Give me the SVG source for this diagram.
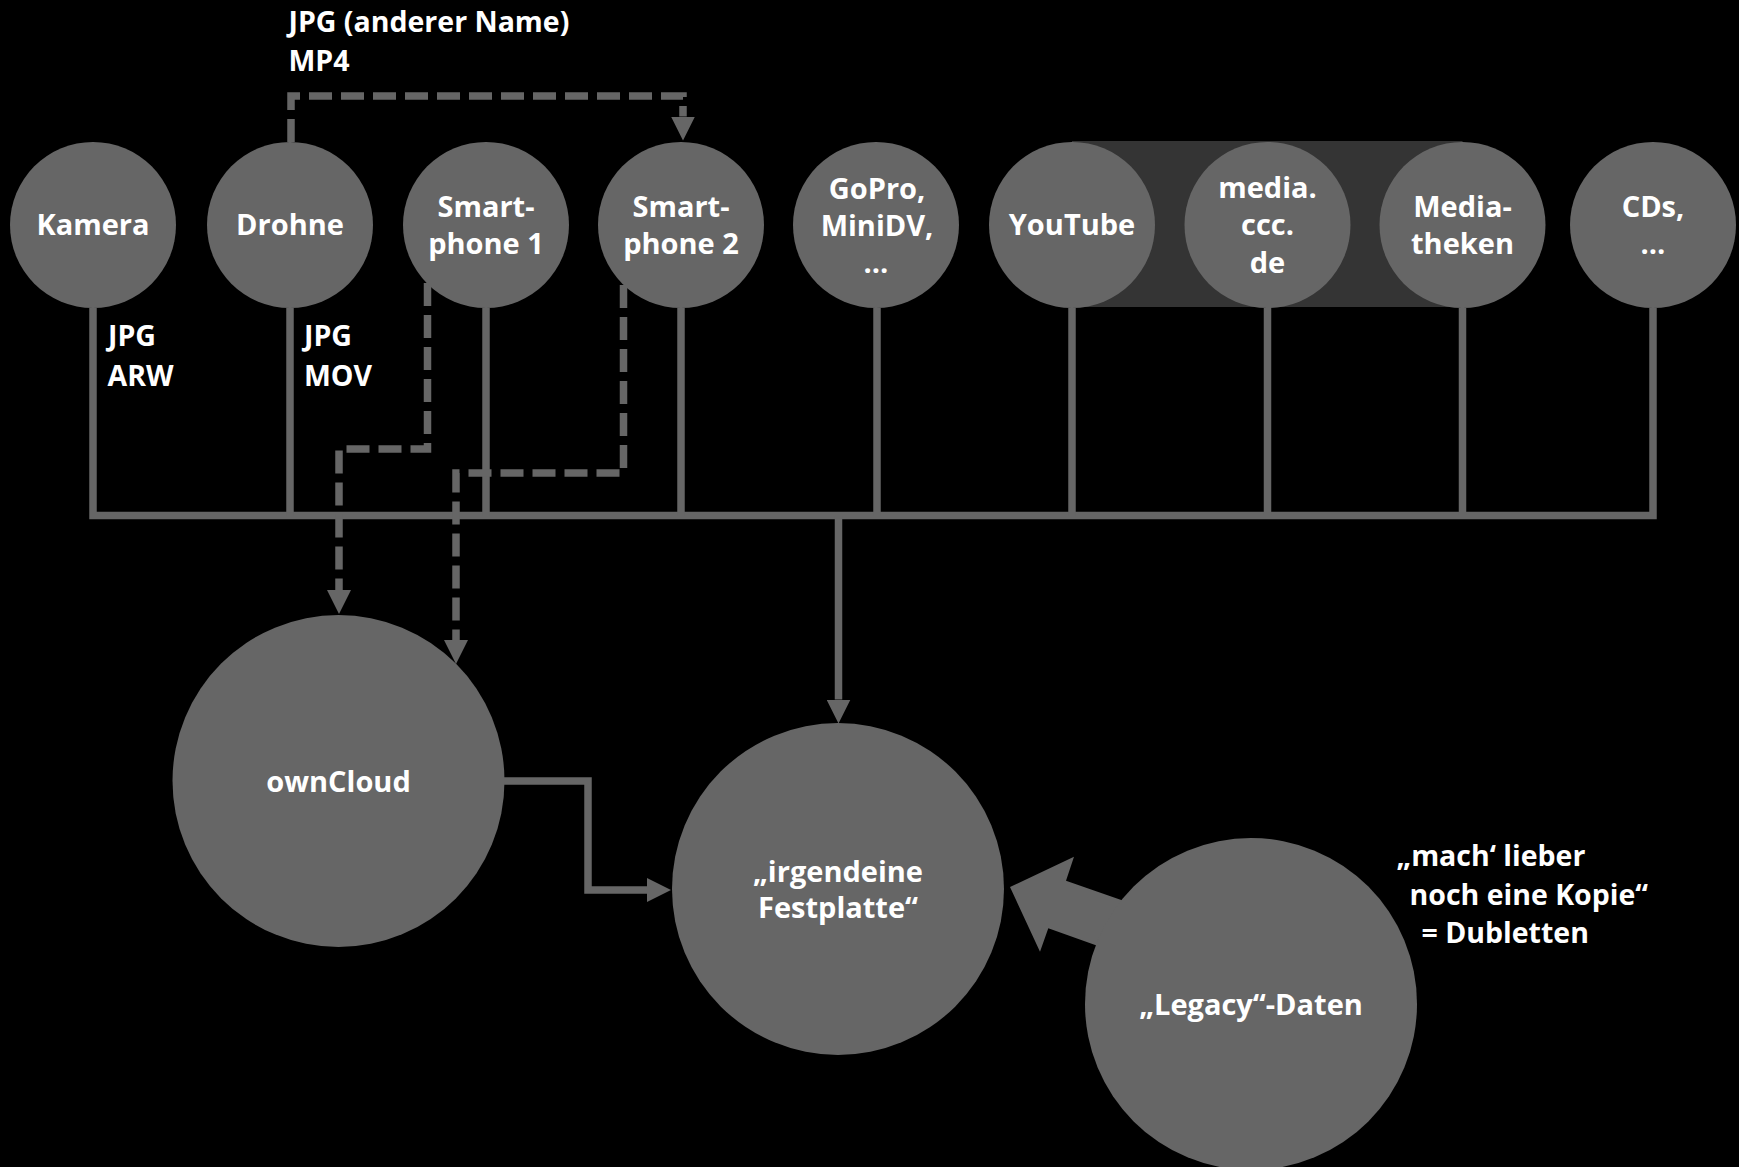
<svg xmlns="http://www.w3.org/2000/svg" width="1739" height="1167" viewBox="0 0 1739 1167">
<style>
.n{fill:#666666}
.t{font-family:"Open Sans",Lato,"Liberation Sans",sans-serif;font-weight:700;fill:#ffffff;font-size:29px;text-anchor:middle}
.l{font-family:"Open Sans",Lato,"Liberation Sans",sans-serif;font-weight:700;fill:#ffffff;font-size:28.5px}
.c{fill:none;stroke:#666666;stroke-width:7.5;stroke-linejoin:miter}
.d{stroke-dasharray:23 9}
</style>
<defs>
<marker id="ah" viewBox="0 -12 24 24" markerWidth="24" markerHeight="24" refX="0" refY="0" orient="auto" markerUnits="userSpaceOnUse">
<path d="M0,-12 L24,0 L0,12 z" fill="#666666"/>
</marker>
</defs>
<rect width="1739" height="1167" fill="#000000"/>
<rect x="1072" y="141" width="390.5" height="166" fill="#343434"/>
<g id="connectors">
<path class="c" d="M93,308 V515.5 H1653 V308"/>
<path class="c" d="M290,308 V515.5"/>
<path class="c" d="M486,308 V515.5"/>
<path class="c" d="M681,308 V515.5"/>
<path class="c" d="M877,308 V515.5"/>
<path class="c" d="M1072,308 V515.5"/>
<path class="c" d="M1267.5,308 V515.5"/>
<path class="c" d="M1462.5,308 V515.5"/>
<path class="c" d="M838.5,515.5 V699.5" marker-end="url(#ah)"/>
<path class="c" d="M504,781 H588 V890 H647" marker-end="url(#ah)"/>
<path class="c d" d="M291,142 V96 H683 V116.5" marker-end="url(#ah)"/>
<path class="c d" d="M427.5,283 V449 H339 V590" marker-end="url(#ah)"/>
<path class="c d" d="M623.5,285 V473 H456 V640" marker-end="url(#ah)"/>
<polygon points="1010,887 1074,856.7 1066,880.7 1160,913.5 1140,961 1048.3,928.3 1040,951.7" fill="#666666"/>
</g>
<g id="kamera"><circle class="n" cx="93" cy="225" r="83"/><text class="t" x="93" y="235">Kamera</text></g>
<g id="drohne"><circle class="n" cx="290" cy="225" r="83"/><text class="t" x="290" y="235">Drohne</text></g>
<g id="smartphone1"><circle class="n" cx="486" cy="225" r="83"/><text class="t" x="486" y="217">Smart-</text><text class="t" x="486" y="254">phone 1</text></g>
<g id="smartphone2"><circle class="n" cx="681" cy="225" r="83"/><text class="t" x="681" y="217">Smart-</text><text class="t" x="681" y="254">phone 2</text></g>
<g id="gopro"><circle class="n" cx="876" cy="225" r="83"/><text class="t" x="877" y="199">GoPro,</text><text class="t" x="877" y="236">MiniDV,</text><text class="t" x="876" y="273">…</text></g>
<g id="youtube"><circle class="n" cx="1072" cy="225" r="83"/><text class="t" x="1072" y="235">YouTube</text></g>
<g id="mediaccc"><circle class="n" cx="1267.5" cy="225" r="83"/><text class="t" x="1267.5" y="198">media.</text><text class="t" x="1267.5" y="235">ccc.</text><text class="t" x="1267.5" y="273">de</text></g>
<g id="mediatheken"><circle class="n" cx="1462.5" cy="225" r="83"/><text class="t" x="1462.5" y="217">Media-</text><text class="t" x="1462.5" y="254">theken</text></g>
<g id="cds"><circle class="n" cx="1653" cy="225" r="83"/><text class="t" x="1653" y="217">CDs,</text><text class="t" x="1653" y="254">…</text></g>
<g id="owncloud"><circle class="n" cx="338.5" cy="781" r="166"/><text class="t" x="338.5" y="791.5">ownCloud</text></g>
<g id="festplatte"><circle class="n" cx="838" cy="889" r="166"/><text class="t" x="838" y="882">„irgendeine</text><text class="t" x="838" y="918">Festplatte“</text></g>
<g id="legacy"><circle class="n" cx="1251" cy="1004" r="166"/><text class="t" x="1251" y="1015">„Legacy“-Daten</text></g>
<g id="labels">
<text class="l" x="288.5" y="32">JPG (anderer Name)</text>
<text class="l" x="288.5" y="71">MP4</text>
<text class="l" x="108" y="346">JPG</text>
<text class="l" x="107.5" y="385.5">ARW</text>
<text class="l" x="304" y="346">JPG</text>
<text class="l" x="304" y="385.5">MOV</text>
<text class="l" x="1396.5" y="866">„mach‘ lieber</text>
<text class="l" x="1409.5" y="904.5">noch eine Kopie“</text>
<text class="l" x="1421.5" y="943">= Dubletten</text>
</g>
</svg>
